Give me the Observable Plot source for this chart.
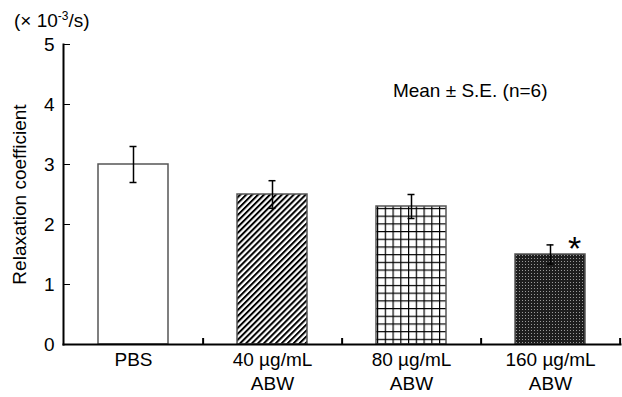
<!DOCTYPE html>
<html>
<head>
<meta charset="utf-8">
<script src="https://cdn.jsdelivr.net/npm/d3@7"></script>
<script src="https://cdn.jsdelivr.net/npm/@observablehq/plot@0.6"></script>
<style>
  html, body { margin: 0; padding: 0; background: #fff; }
  svg { font-family: "Liberation Sans", Arial, sans-serif; }
</style>
</head>
<body>
<div id="chart"></div>
<script>
const categories = ["PBS", "40 µg/mL\nABW", "80 µg/mL\nABW", "160 µg/mL\nABW"];
const means = [3.0, 2.5, 2.3, 1.5];
const errors = [0.3, 0.23, 0.2, 0.16];
const fills = ["white", "url(#hatch)", "url(#grid)", "url(#dots)"];
const marks = ["", "", "", "*"];
const yTicks = [0, 1, 2, 3, 4, 5];
const yLabel = "Relaxation coefficient";
const note = "Mean ± S.E. (n=6)";

const data = categories.map((c, i) => ({cat: c, mean: means[i], se: errors[i], fill: fills[i], mark: marks[i]}));
const boundaries = categories;

const W = 622, H = 397, ML = 63, MR = 2, MT = 44, MB = 53;
const step = (W - ML - MR) / categories.length;

const plot = Plot.plot({
  width: W, height: H,
  marginLeft: ML, marginRight: MR, marginTop: MT, marginBottom: MB,
  style: {fontFamily: "'Liberation Sans', Arial, sans-serif", fontSize: "19px", color: "#000", background: "#fff"},
  x: {domain: categories, paddingInner: 0.5, paddingOuter: 0.25, label: null},
  y: {domain: [0, 5], label: null},
  color: {type: "identity"},
  marks: [
    Plot.barY(data, {x: "cat", y: "mean", fill: "fill", stroke: "#555", strokeWidth: 1.5}),
    Plot.ruleX(data, {x: "cat", y1: d => d.mean - d.se, y2: d => d.mean + d.se, stroke: "#000", strokeWidth: 1.5}),
    Plot.tickY(data, {x: "cat", y: d => d.mean + d.se, stroke: "#000", strokeWidth: 1.5, insetLeft: 31.5, insetRight: 31.5}),
    Plot.tickY(data, {x: "cat", y: d => d.mean - d.se, stroke: "#000", strokeWidth: 1.5, insetLeft: 31.5, insetRight: 31.5}),
    Plot.text(data, {x: "cat", y: d => d.mean + d.se, text: "mark", dx: 24, dy: 4, fontSize: 34, fill: "#000"}),
    Plot.ruleX(boundaries, {x: d => d, y1: 0, y2: 0.1, dx: step / 2, stroke: "#000", strokeWidth: 2}),
    Plot.frame({anchor: "left", stroke: "#000", strokeWidth: 2}),
    Plot.frame({anchor: "bottom", stroke: "#000", strokeWidth: 2}),
    Plot.axisY({ticks: yTicks, tickSize: -7, tickPadding: 16, tickFormat: d3.format("d"), fontSize: 19, label: null}),
    Plot.axisX({tickSize: 0, tickPadding: 5, fontSize: 19, lineHeight: 1.25}),
    Plot.text([yLabel], {frameAnchor: "left", rotate: -90, dx: -44, dy: 0, fontSize: 19, fill: "#000", textAnchor: "middle"}),
    Plot.text([note], {frameAnchor: "top-right", dx: -73, dy: 39, textAnchor: "end", fontSize: 19, fill: "#000"})
  ]
});

const svg = d3.select(plot);
const defs = svg.insert("defs", ":first-child");
const hatch = defs.append("pattern").attr("id", "hatch").attr("patternUnits", "userSpaceOnUse")
  .attr("width", 4.2).attr("height", 10).attr("patternTransform", "rotate(45)");
hatch.append("rect").attr("width", 4.2).attr("height", 10).attr("fill", "#fff");
hatch.append("rect").attr("width", 2).attr("height", 10).attr("fill", "#000");
const grid = defs.append("pattern").attr("id", "grid").attr("patternUnits", "userSpaceOnUse")
  .attr("width", 7.75).attr("height", 7.7).attr("x", 98).attr("y", 0);
grid.append("rect").attr("width", 7.75).attr("height", 7.7).attr("fill", "#fff");
grid.append("rect").attr("width", 1.2).attr("height", 7.7).attr("fill", "#000");
grid.append("rect").attr("width", 7.75).attr("height", 1.2).attr("fill", "#000");
const dots = defs.append("pattern").attr("id", "dots").attr("patternUnits", "userSpaceOnUse")
  .attr("width", 3).attr("height", 3);
dots.append("rect").attr("width", 3).attr("height", 3).attr("fill", "#1e1e1e");
dots.append("rect").attr("width", 1).attr("height", 1).attr("fill", "#9a9a9a");

const title = svg.append("text").attr("x", 14).attr("y", 27)
  .attr("text-anchor", "start").attr("font-size", 19).attr("fill", "#000");
title.append("tspan").text("(× 10");
title.append("tspan").attr("font-size", 12).attr("dy", -7).text("-3");
title.append("tspan").attr("dy", 7).text("/s)");

document.getElementById("chart").append(plot);
</script>
</body>
</html>
